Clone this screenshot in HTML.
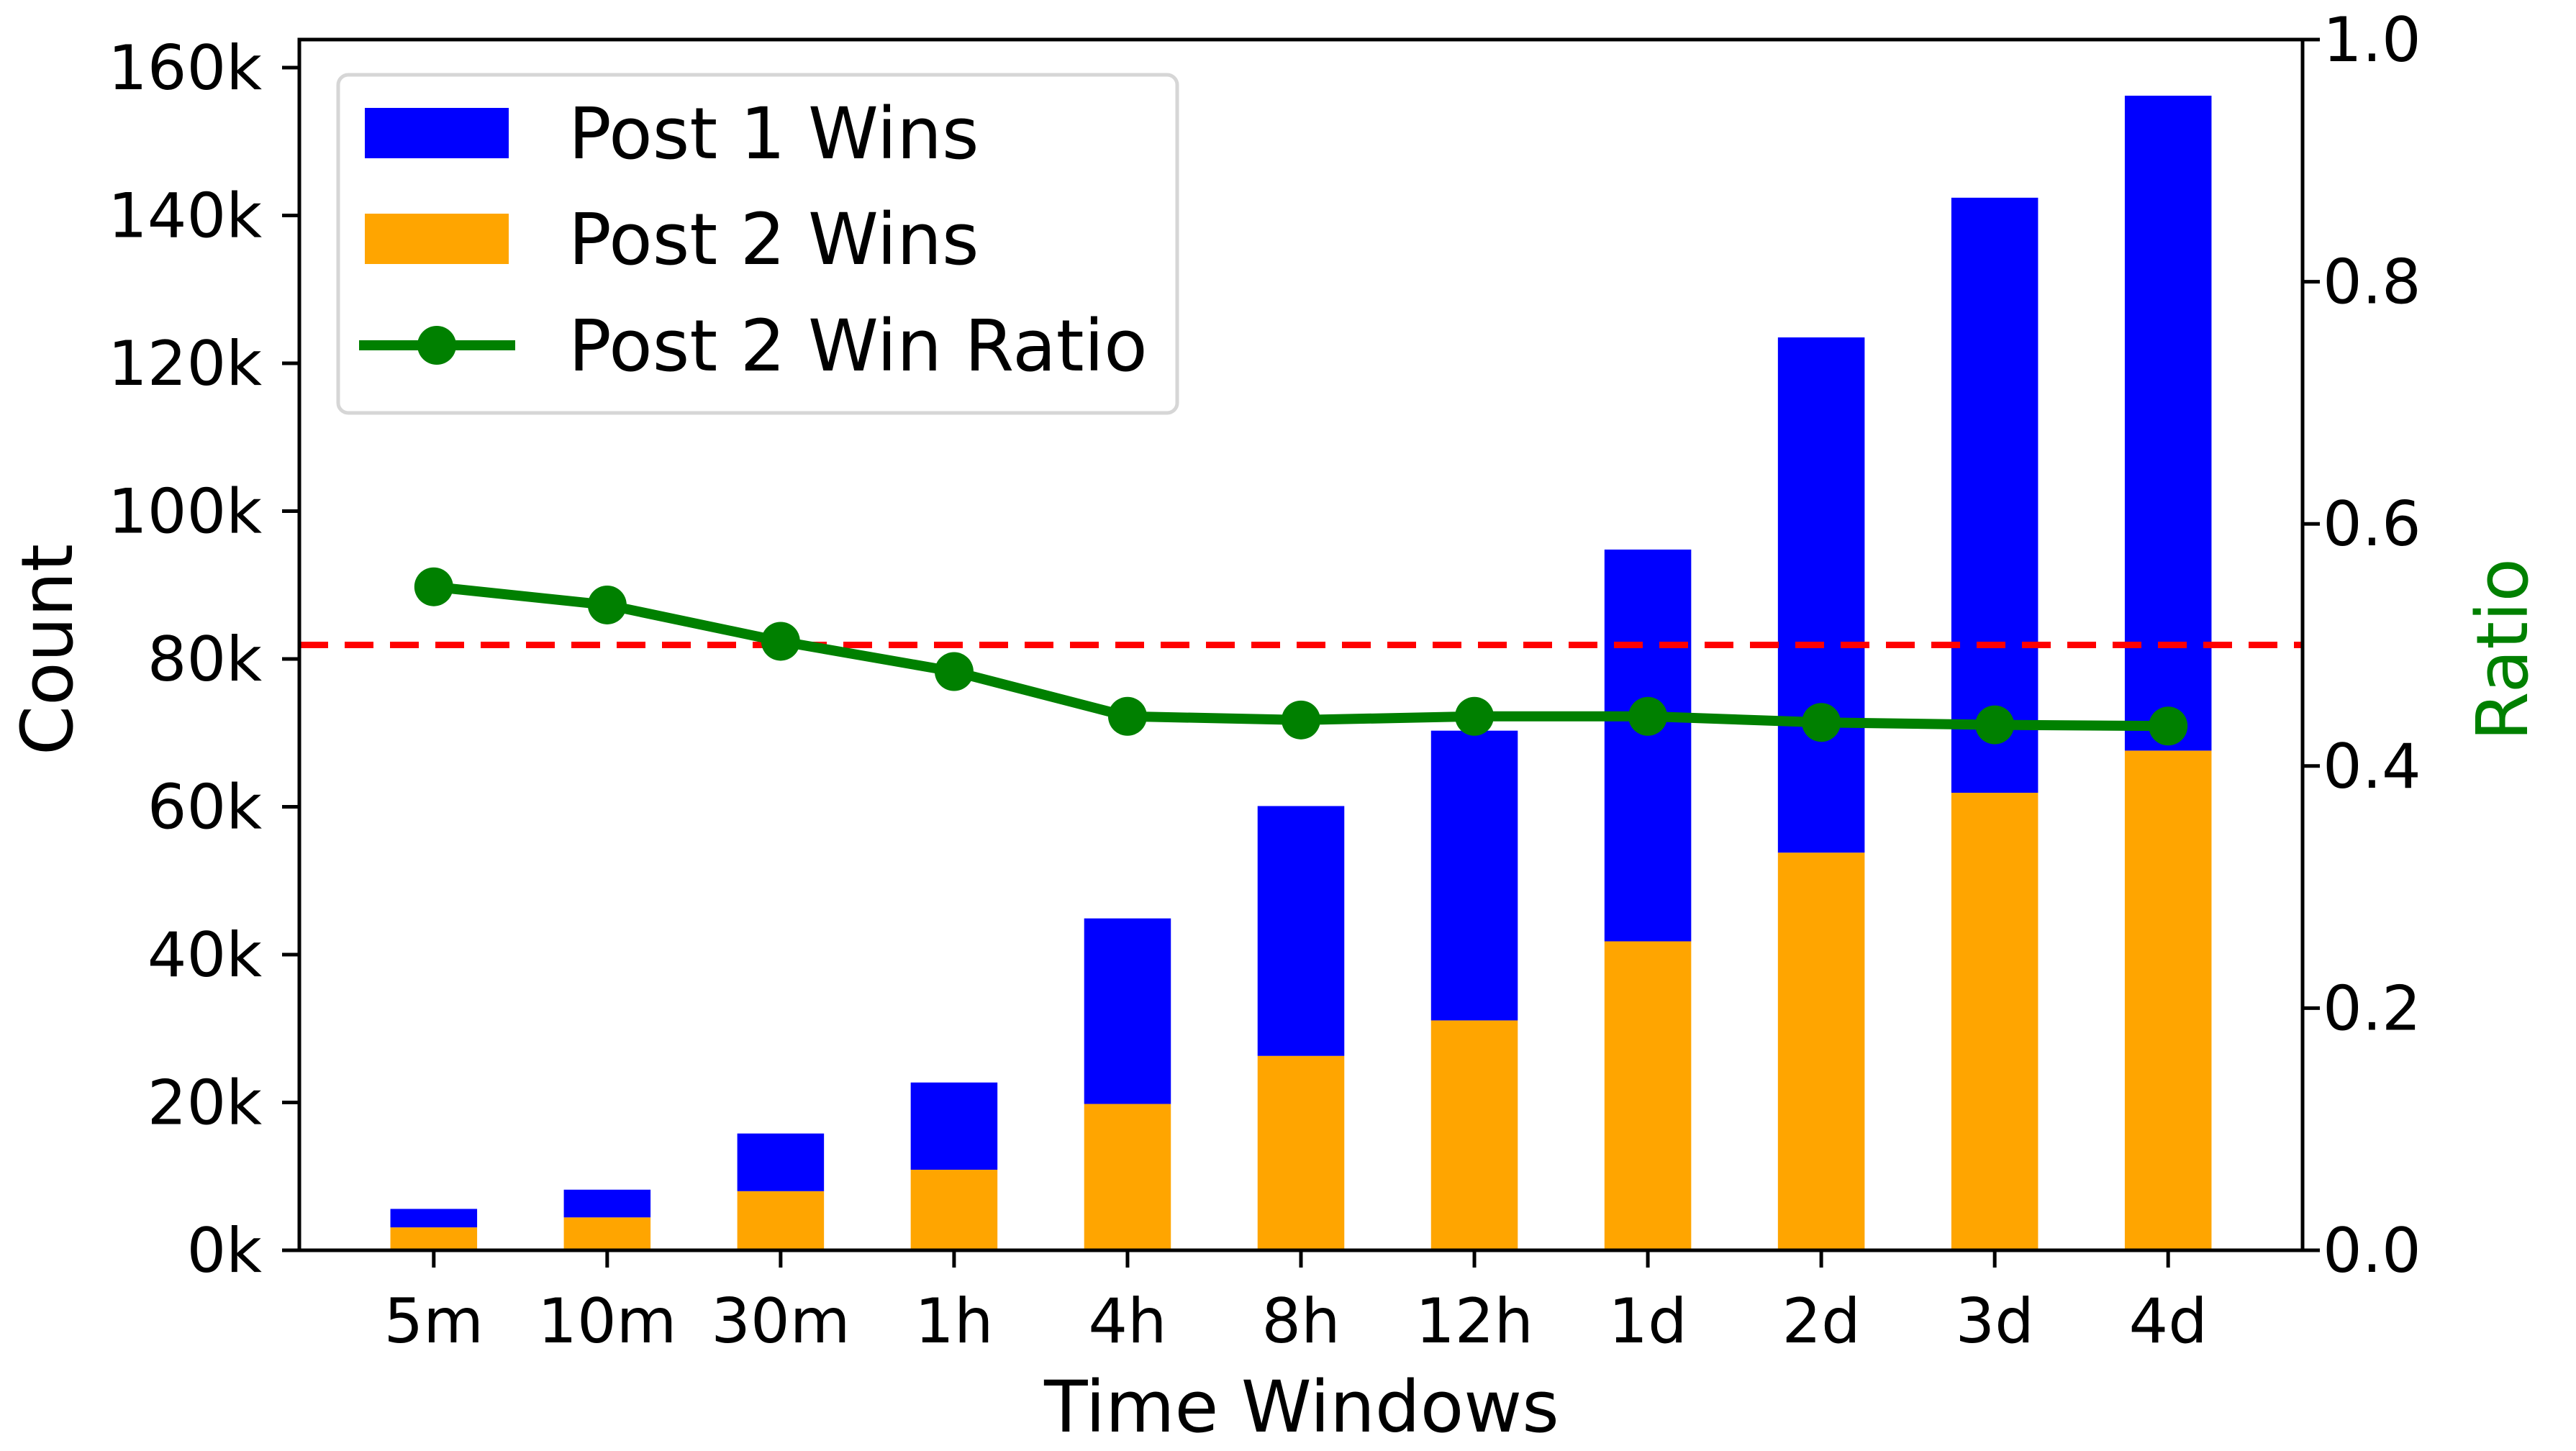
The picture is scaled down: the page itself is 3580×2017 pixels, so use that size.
<!DOCTYPE html>
<html><head><meta charset="utf-8"><style>
html,body{margin:0;padding:0;background:#fff;}
svg{display:block;font-family:"DejaVu Sans","Liberation Sans",sans-serif;}
</style></head><body>
<svg id="chart" width="3580" height="2017" viewBox="0 0 3580 2017" xmlns="http://www.w3.org/2000/svg">
<g id="plot"></g>
</svg>
<script>
const categories = ["5m","10m","30m","1h","4h","8h","12h","1d","2d","3d","4d"];
const post1Totals = [5600, 8200, 15800, 22700, 44900, 60100, 70300, 94800, 123500, 142400, 156200];
const post2Wins = [3100, 4450, 8000, 10900, 19800, 26300, 31100, 41800, 53800, 61900, 67600];
const ratioValues = [0.548, 0.533, 0.503, 0.478, 0.441, 0.438, 0.441, 0.441, 0.436, 0.434, 0.433];
const leftTicks = [0, 20000, 40000, 60000, 80000, 100000, 120000, 140000, 160000];
const leftTickLabels = ["0k","20k","40k","60k","80k","100k","120k","140k","160k"];
const rightTicks = [0, 0.2, 0.4, 0.6, 0.8, 1.0];
const rightTickLabels = ["0.0","0.2","0.4","0.6","0.8","1.0"];
const referenceRatio = 0.5;

const NS = "http://www.w3.org/2000/svg";
const L = 416, R = 3200, T = 55, B = 1738;
const xMin = -0.775, xMax = 10.775;
const yMaxLeft = (B - T) / (205.5 / 20000);
const xs = i => L + (i - xMin) / (xMax - xMin) * (R - L);
const yl = v => B - v / yMaxLeft * (B - T);
const yr = v => B - v * (B - T);
const bw = 0.5 * (R - L) / (xMax - xMin);
const g = document.getElementById('plot');
function mk(tag, attrs, parent) {
  const e = document.createElementNS(NS, tag);
  for (const k in attrs) e.setAttribute(k, attrs[k]);
  (parent || g).appendChild(e);
  return e;
}
categories.forEach((c, i) => {
  const x = xs(i) - bw / 2;
  const p2 = mk('rect', {x: x, y: yl(post2Wins[i]), width: bw, height: B - yl(post2Wins[i]), fill: '#ffa500'});
  
  
  const p1 = mk('rect', {x: x, y: yl(post1Totals[i]), width: bw, height: yl(post2Wins[i]) - yl(post1Totals[i]), fill: '#0000ff'});
  
  
});
const ref = mk('line', {x1: L, x2: R, y1: yr(referenceRatio), y2: yr(referenceRatio), stroke: '#ff0000', 'stroke-width': 9, 'stroke-dasharray': '40 23'});


const pts = ratioValues.map((v, i) => xs(i) + ',' + yr(v)).join(' ');
const pl = mk('polyline', {points: pts, fill: 'none', stroke: '#008000', 'stroke-width': 14, 'stroke-linejoin': 'round'});


ratioValues.forEach((v, i) => {
  const c = mk('circle', {cx: xs(i), cy: yr(v), r: 27, fill: '#008000'});
  
  
});
const fr = mk('rect', {x: L, y: T, width: R - L, height: B - T, fill: 'none', stroke: '#000', 'stroke-width': 5});


leftTicks.forEach((v, i) => {
  const y = yl(v);
  mk('line', {x1: L - 24, x2: L, y1: y, y2: y, stroke: '#000', 'stroke-width': 5});
  const t = mk('text', {x: L - 52, y: y + 30, 'text-anchor': 'end', 'font-size': 86, fill: '#000'});
  t.textContent = leftTickLabels[i];
  
  
});
rightTicks.forEach((v, i) => {
  const y = yr(v);
  mk('line', {x1: R, x2: R + 24, y1: y, y2: y, stroke: '#000', 'stroke-width': 5});
  const t = mk('text', {x: R + 28, y: y + 30, 'text-anchor': 'start', 'font-size': 86, fill: '#000'});
  t.textContent = rightTickLabels[i];
  
  
});
categories.forEach((c, i) => {
  const x = xs(i);
  mk('line', {x1: x, x2: x, y1: B, y2: B + 24, stroke: '#000', 'stroke-width': 5});
  const t = mk('text', {x: x, y: B + 128, 'text-anchor': 'middle', 'font-size': 86, fill: '#000'});
  t.textContent = c;
  
  
});
</script>
<svg style="position:absolute;left:0;top:0" width="3580" height="2017" xmlns="http://www.w3.org/2000/svg" font-family="DejaVu Sans, Liberation Sans, sans-serif">
<text x="1809" y="1990" text-anchor="middle" font-size="99">Time Windows</text>
<text x="0" y="0" text-anchor="middle" font-size="99" transform="translate(100,903) rotate(-90)">Count</text>
<text x="0" y="0" text-anchor="middle" font-size="99" fill="#008000" transform="translate(3512,903) rotate(-90)">Ratio</text>
<g>
<rect x="470" y="104" width="1166" height="470" rx="14" fill="#fff" fill-opacity="0.8" stroke="#d6d6d6" stroke-width="5"/>
<rect x="507" y="150" width="200" height="70" fill="#0000ff"/>
<text x="790" y="220" font-size="99">Post 1 Wins</text>
<rect x="507" y="297" width="200" height="70" fill="#ffa500"/>
<text x="790" y="367" font-size="99">Post 2 Wins</text>
<line x1="499" x2="716" y1="480" y2="480" stroke="#008000" stroke-width="14"/>
<circle cx="607" cy="480" r="27" fill="#008000"/>
<text x="790" y="515" font-size="99">Post 2 Win Ratio</text>
</g>
</svg>
</body></html>
